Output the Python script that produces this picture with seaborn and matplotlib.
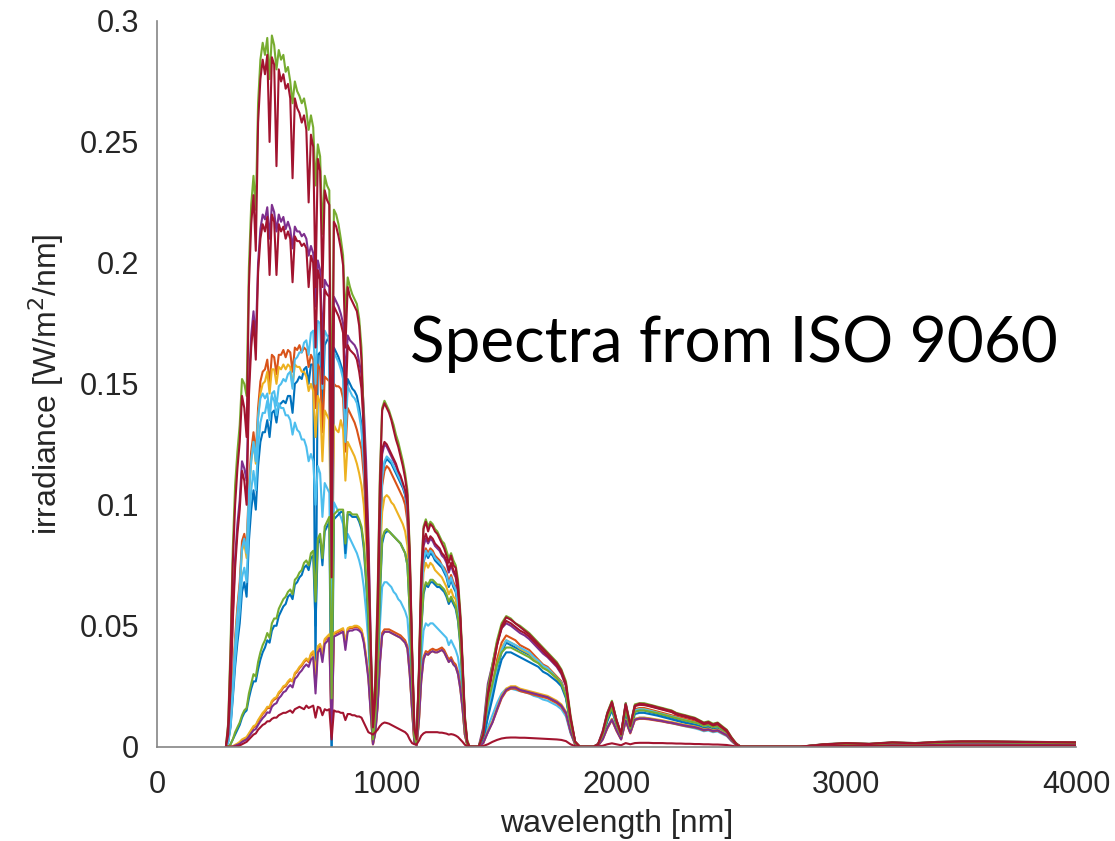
import numpy as np
import matplotlib
matplotlib.use("Agg")
import matplotlib.pyplot as plt
import seaborn as sns

# Wavelength sampling grid [nm]
wavelength = (list(range(300, 1400, 10)) + list(range(1400, 1900, 20))
              + list(range(1900, 2600, 20)) + list(range(2600, 4001, 100)))

# Spectral irradiance values in mW/m^2/nm
g3_blue = [
    0, 2, 8, 20, 33, 43, 51, 64, 68, 62,
    85, 98, 106, 98, 116, 126, 130, 130, 135, 128,
    138, 139, 134, 141, 142, 143, 142, 145, 145, 138,
    150, 151, 153, 152, 156, 157, 150, 158, 158, 30,
    162, 163, 138, 166, 168, 170, 0, 165, 163, 161,
    158, 155, 128, 152, 150, 148, 147, 145, 140, 133,
    118, 96, 70, 34, 3, 14, 40, 82, 110, 117,
    119, 118, 117, 115, 113, 111, 109, 107, 104, 97,
    72, 35, 4, 1, 23, 58, 76, 80, 78, 80,
    79, 77, 76, 75, 74, 72, 70, 66, 69, 66,
    64, 58, 46, 29, 9, 1, 0, 0, 0, 0,
    0, 3, 13, 22, 32, 39, 43, 42, 41, 40,
    39, 38, 36, 35, 33, 32, 30, 28, 26, 21,
    9, 1.5, 0, 0, 0,
    0, 0.8, 4.5, 11, 16, 9.5, 4.5, 15, 7.5, 14.5,
    15, 15, 14.5, 14, 13.5, 13, 12.5, 12, 11.5, 11,
    10.5, 10, 9.5, 9, 8, 8.5, 7.5, 8, 6.5, 5.5,
    3, 1, 0, 0, 0,
    0, 0, 0, 0.7, 1.1, 0.9, 1.4, 1.2, 1.6, 1.8,
    1.8, 1.7, 1.6, 1.5, 1.4]

g3_orange = [
    0, 3, 12, 28, 45, 58, 68, 85, 88, 82,
    108, 122, 130, 121, 140, 151, 155, 156, 160, 150,
    162, 161, 154, 162, 162, 164, 161, 164, 163, 155,
    165, 164, 166, 163, 165, 164, 157, 162, 160, 140,
    158, 156, 130, 153, 152, 151, 60, 150, 149, 149,
    148, 144, 122, 140, 138, 136, 134, 131, 127, 123,
    112, 95, 72, 38, 6, 18, 45, 85, 108, 114,
    116, 115, 113, 111, 109, 107, 105, 103, 100, 93,
    70, 35, 6, 2, 25, 60, 78, 82, 80, 82,
    81, 79, 78, 77, 75, 74, 72, 68, 71, 68,
    66, 60, 49, 31, 10, 2, 0, 0, 0, 0,
    0, 4, 16, 25, 36, 43, 46, 45, 44, 42,
    41, 40, 38, 36, 34, 33, 31, 29, 27, 22,
    10, 2, 0, 0, 0,
    0, 1, 5, 12, 17, 10, 5, 16, 8, 15.5,
    16, 16, 15.5, 15, 14.5, 14, 13.5, 13, 12.5, 12,
    11.5, 11, 10.5, 10, 9, 9.5, 8.5, 9, 7.5, 6,
    3.5, 1.2, 0, 0, 0,
    0, 0, 0, 0.8, 1.2, 1, 1.5, 1.3, 1.7, 1.9,
    1.9, 1.8, 1.7, 1.6, 1.5]

g3_yellow = [
    0, 3, 11, 26, 42, 55, 65, 81, 84, 78,
    104, 118, 126, 117, 136, 146, 150, 151, 155, 146,
    156, 156, 150, 157, 156, 158, 156, 158, 157, 149,
    158, 157, 157, 155, 155, 153, 147, 150, 147, 128,
    145, 142, 118, 139, 137, 135, 55, 133, 131, 130,
    135, 131, 110, 126, 124, 122, 120, 117, 113, 108,
    100, 86, 66, 35, 5, 16, 40, 76, 97, 103,
    104, 103, 101, 100, 98, 96, 94, 92, 89, 83,
    63, 32, 6, 2, 23, 55, 72, 76, 74, 76,
    75, 73, 72, 71, 70, 68, 66, 63, 65, 62,
    61, 55, 45, 28, 9, 2, 0, 0, 0, 0,
    0, 4, 15, 24, 34, 41, 44, 43, 42, 40.5,
    39.5, 38.5, 36.5, 35, 33, 32, 30, 28, 26, 21,
    9.5, 2, 0, 0, 0,
    0, 1, 5, 12, 16.5, 10, 5, 15.5, 8, 15,
    15.5, 15.5, 15, 14.5, 14, 13.5, 13, 12.5, 12, 11.5,
    11, 10.5, 10, 9.5, 8.5, 9, 8, 8.5, 7, 5.8,
    3.3, 1.1, 0, 0, 0,
    0, 0, 0, 0.8, 1.2, 1, 1.5, 1.3, 1.7, 1.9,
    1.9, 1.8, 1.7, 1.6, 1.5]

g2_purple = [
    0, 6, 26, 55, 78, 92, 102, 118, 115, 110,
    150, 170, 180, 168, 200, 214, 220, 218, 223, 210,
    224, 221, 213, 220, 217, 219, 214, 217, 214, 206,
    215, 213, 213, 211, 212, 210, 203, 207, 204, 182,
    201, 197, 166, 193, 191, 190, 85, 186, 184, 182,
    179, 175, 152, 170, 168, 167, 166, 164, 159, 154,
    140, 118, 88, 45, 9, 21, 52, 96, 121, 125,
    124, 122, 120, 118, 116, 113, 111, 108, 105, 99,
    76, 38, 7, 3, 28, 64, 83, 86, 84, 86,
    85, 83, 82, 81, 79, 78, 76, 72, 75, 72,
    70, 64, 52, 33, 11, 2, 0, 0, 0, 0,
    0, 8, 26, 34, 43, 49, 51, 50, 48.5, 47,
    46, 44.5, 42.5, 40.5, 38.5, 37, 35, 33, 30, 25,
    11, 2, 0, 0, 0,
    0, 1.2, 6.5, 14, 18.5, 11, 5.5, 18, 9, 17,
    17.5, 17.5, 17, 16.5, 16, 15.5, 15, 14.5, 13.5, 13,
    12.5, 12, 11.5, 10.5, 9.5, 10, 9, 9.5, 8, 6.5,
    3.5, 1.2, 0, 0, 0,
    0, 0, 0, 1, 1.5, 1.2, 1.8, 1.5, 2, 2.2,
    2.2, 2.1, 2, 1.9, 1.8]

g1_green = [
    0, 10, 42, 82, 108, 122, 133, 152, 150, 145,
    198, 224, 236, 222, 266, 284, 291, 286, 293, 276,
    294, 290, 280, 288, 284, 286, 279, 281, 275, 266,
    275, 271, 269, 266, 268, 263, 255, 261, 256, 232,
    249, 244, 212, 236, 232, 230, 125, 222, 220, 216,
    210, 203, 178, 194, 190, 187, 185, 183, 177, 165,
    135, 100, 75, 42, 12, 28, 62, 112, 140, 143,
    141, 139, 136, 133, 129, 126, 122, 118, 113, 106,
    82, 42, 9, 3, 32, 72, 91, 94, 91, 93,
    92, 90, 89, 87, 85, 84, 81, 78, 80, 77,
    75, 69, 56, 36, 13, 3, 0, 0, 0, 0,
    0, 6, 24, 34, 44, 51, 54, 53, 51, 50,
    48.5, 47, 45, 43, 41, 39, 37, 35, 32, 27,
    13, 2, 0, 0, 0,
    0, 1, 6, 14, 19, 11, 5, 18, 9, 17.5,
    18, 18, 17.5, 17, 16.5, 16, 15.5, 15, 14, 13.5,
    13, 12.5, 12, 11, 10, 10.5, 9.5, 10, 8.5, 7,
    4, 1.5, 0, 0, 0,
    0, 0, 0, 1, 1.5, 1.2, 1.8, 1.5, 2, 2.2,
    2.2, 2.1, 2, 1.9, 1.8]

g3_lightblue = [
    0, 2, 9, 22, 36, 47, 56, 70, 74, 68,
    92, 106, 114, 106, 124, 134, 138, 138, 143, 135,
    146, 147, 141, 149, 150, 152, 151, 154, 155, 148,
    160, 161, 163, 163, 167, 168, 162, 171, 172, 150,
    176, 175, 148, 172, 170, 168, 62, 163, 161, 159,
    156, 152, 126, 149, 147, 145, 144, 142, 137, 131,
    117, 97, 71, 35, 4, 15, 41, 83, 111, 118,
    120, 119, 118, 116, 114, 112, 110, 108, 105, 98,
    73, 36, 5, 1, 24, 59, 77, 81, 79, 81,
    80, 78, 77, 76, 75, 73, 71, 67, 70, 67,
    65, 59, 47, 30, 9, 1, 0, 0, 0, 0,
    0, 3, 14, 23, 33, 40, 44, 43, 42, 41,
    40, 39, 37, 35.5, 33.5, 32.5, 30.5, 28.5, 26.5, 21.5,
    9.5, 1.5, 0, 0, 0,
    0, 0.8, 4.8, 11.5, 16.5, 9.8, 4.8, 15.5, 7.8, 15,
    15.5, 15.4, 15, 14.5, 14, 13.5, 13, 12.5, 12, 11.4,
    10.9, 10.4, 9.9, 9.4, 8.4, 8.9, 7.9, 8.4, 6.9, 5.7,
    3.1, 1, 0, 0, 0,
    0, 0, 0, 0.7, 1.1, 0.9, 1.4, 1.2, 1.6, 1.8,
    1.8, 1.7, 1.6, 1.5, 1.4]

g1_darkred = [
    0, 9, 38, 76, 100, 115, 126, 145, 140, 128,
    190, 216, 228, 205, 258, 276, 284, 278, 286, 250,
    285, 282, 240, 280, 275, 278, 272, 274, 268, 235,
    268, 264, 262, 258, 261, 255, 225, 253, 248, 190,
    243, 238, 190, 230, 226, 224, 95, 217, 215, 211,
    206, 199, 165, 190, 186, 184, 182, 180, 174, 160,
    130, 95, 70, 38, 10, 25, 58, 108, 139, 142,
    140, 138, 135, 131, 127, 124, 120, 116, 111, 104,
    80, 40, 8, 3, 30, 70, 90, 93, 89, 92,
    91, 89, 88, 86, 84, 82, 79, 76, 79, 75,
    74, 67, 54, 34, 12, 2, 0, 0, 0, 0,
    0, 4, 20, 31, 42, 50, 53.5, 52.5, 51, 49.5,
    48, 46.5, 44.5, 42.5, 40.5, 38.5, 36.5, 34.5, 31.5, 26,
    12, 2, 0, 0, 0,
    0, 1, 5.5, 13.5, 18.5, 11, 5, 17.5, 8.5, 17,
    17.8, 17.6, 17.2, 16.8, 16.2, 15.8, 15.2, 14.8, 13.8, 13.2,
    12.8, 12.2, 11.8, 10.8, 9.8, 10.2, 9.2, 9.8, 8.2, 6.8,
    3.8, 1.4, 0, 0, 0,
    0, 0, 0, 0.9, 1.4, 1.1, 1.7, 1.4, 1.9, 2.1,
    2.1, 2, 1.9, 1.8, 1.7]

g4_blue = [
    0, 0, 1, 3, 5, 7, 9, 12, 14, 15,
    20, 24, 27, 27, 32, 36, 39, 41, 44, 43,
    48, 50, 50, 54, 56, 58, 59, 62, 63, 61,
    67, 68, 70, 71, 74, 75, 73, 78, 79, 50,
    84, 86, 75, 89, 91, 93, 0, 94, 95, 96,
    97, 97, 80, 96, 96, 95, 95, 95, 93, 90,
    82, 68, 52, 26, 2, 11, 30, 62, 84, 88,
    89, 89, 88, 87, 86, 85, 84, 82, 80, 75,
    56, 28, 3, 1, 19, 48, 63, 67, 66, 68,
    68, 67, 66, 66, 65, 64, 62, 59, 61, 59,
    57, 52, 42, 27, 8, 1, 0, 0, 0, 0,
    0, 3, 12, 20, 29, 36, 39, 39, 38, 37,
    36, 35, 34, 33, 31, 30, 28.5, 27, 25, 20,
    9, 1.5, 0, 0, 0,
    0, 0.7, 4.2, 10.5, 15, 9, 4.2, 14, 7, 13.5,
    14, 14, 13.6, 13.2, 12.8, 12.3, 11.8, 11.3, 10.8, 10.3,
    9.8, 9.4, 9, 8.5, 7.6, 8, 7.1, 7.5, 6.2, 5.1,
    2.8, 0.9, 0, 0, 0,
    0, 0, 0, 0.6, 1, 0.8, 1.3, 1.1, 1.5, 1.7,
    1.7, 1.6, 1.5, 1.4, 1.3]

g5_orange = [
    0, 0, 0, 0, 0.5, 1, 1.5, 2.5, 3, 3.5,
    5, 6.5, 8, 8.5, 10.5, 12, 13.5, 14.5, 16, 16,
    18.5, 19.5, 20, 22, 23, 24.5, 25, 26.5, 27.5, 27,
    30, 31, 32.5, 33.5, 35, 36, 35, 38, 39, 25,
    41, 42, 37, 44, 45, 46, 5, 46.5, 47, 47.5,
    48, 48.5, 42, 48.5, 49, 49, 49.5, 49.5, 49, 48,
    44, 37, 29, 15, 1, 6, 17, 35, 47, 48.5,
    48.5, 48.5, 48, 47.5, 47, 46.5, 46, 45, 44, 41.5,
    31, 16, 2, 0.5, 11, 28, 37, 39.5, 39, 40,
    40.5, 40, 40, 40.5, 41, 40, 38, 36, 37, 35,
    34, 31, 25, 16, 5, 1, 0, 0, 0, 0,
    0, 1.5, 6, 10, 15, 20, 23, 24, 24, 23,
    22.5, 22, 21.5, 21, 20.5, 20, 19, 18, 16.5, 13.5,
    6, 1, 0, 0, 0,
    0, 0.5, 3, 7.5, 11, 6.5, 3, 10.5, 5.5, 11,
    11.5, 11.5, 11.3, 11, 10.7, 10.4, 10, 9.7, 9.3, 8.9,
    8.5, 8.2, 7.9, 7.4, 6.7, 7, 6.3, 6.6, 5.6, 4.6,
    2.5, 0.8, 0, 0, 0,
    0, 0, 0, 0.5, 0.8, 0.7, 1, 0.9, 1.2, 1.3,
    1.3, 1.2, 1.2, 1.1, 1]

g5_yellow = [
    0, 0, 0, 0.2, 0.8, 1.3, 2, 3, 3.5, 4,
    5.5, 7, 8.5, 9, 11, 12.5, 14, 15, 16.5, 16.5,
    19, 20, 20.5, 22.5, 23.5, 25, 25.5, 27, 28, 27,
    30.5, 31.5, 33, 34, 35.5, 36.5, 35.5, 38.5, 39.5, 30,
    41.5, 42.5, 38, 44.5, 45.5, 46.5, 12, 47, 47.5, 48,
    48.5, 49, 43, 49, 49.5, 49.5, 50, 50, 49.5, 48.5,
    44.5, 37.5, 29.5, 15, 1, 6, 17, 35, 46, 47.5,
    47.5, 47.5, 47, 46.5, 46, 45.5, 45, 44, 43, 40.5,
    30, 15.5, 2, 0.5, 10.5, 27, 36, 38.5, 38, 39,
    39.5, 39, 39, 39.5, 40, 39, 37, 35, 36, 34,
    33, 30, 24, 15.5, 5, 1, 0, 0, 0, 0,
    0, 1.5, 6.5, 10.5, 16, 21, 24, 25, 25, 24,
    23.5, 23, 22.5, 22, 21.5, 21, 20, 19, 17.5, 14.5,
    6.5, 1, 0, 0, 0,
    0, 0.5, 3.2, 8, 11.5, 7, 3.2, 11, 6, 11.5,
    12, 12, 11.8, 11.5, 11.2, 10.9, 10.5, 10.2, 9.8, 9.4,
    9, 8.7, 8.4, 7.9, 7.2, 7.5, 6.8, 7.1, 6.1, 5,
    2.7, 0.9, 0, 0, 0,
    0, 0, 0, 0.5, 0.8, 0.7, 1, 0.9, 1.2, 1.3,
    1.3, 1.2, 1.2, 1.1, 1]

g5_purple = [
    0, 0, 0, 0, 0.4, 0.8, 1.2, 2, 2.5, 3,
    4.2, 5.5, 6.8, 7.3, 9, 10.5, 11.8, 12.8, 14.2, 14,
    16.5, 17.5, 18, 20, 21, 22.5, 23, 24.5, 25.5, 24.5,
    28, 29, 30.5, 31.5, 33, 34, 33, 36, 37, 22,
    39, 40.5, 35, 42.5, 43.5, 45, 4, 45.5, 46, 46.5,
    47, 47.5, 40, 47.5, 48, 48, 48.5, 48.5, 48, 47,
    43, 36, 28, 14, 1, 5.5, 16, 34, 46, 47.5,
    47.5, 47.5, 47, 46.5, 46, 45.5, 45, 44, 43, 40.5,
    30, 15.5, 2, 0.5, 10.5, 27, 36, 38.5, 38, 39,
    39.5, 39, 39, 39.5, 40, 39, 37, 35, 36, 34,
    33, 30, 24, 15.5, 5, 1, 0, 0, 0, 0,
    0, 1.5, 6, 10, 15.5, 20.5, 23.5, 24.5, 24.5, 23.5,
    23, 22.5, 22, 21.5, 21, 20.5, 19.5, 18.5, 17, 14,
    6.2, 1, 0, 0, 0,
    0, 0.5, 3, 7.8, 11.2, 6.8, 3, 10.8, 5.8, 11.2,
    11.7, 11.7, 11.5, 11.2, 10.9, 10.6, 10.2, 9.9, 9.5, 9.1,
    8.7, 8.4, 8.1, 7.6, 6.9, 7.2, 6.5, 6.8, 5.8, 4.8,
    2.6, 0.8, 0, 0, 0,
    0, 0, 0, 0.5, 0.8, 0.7, 1, 0.9, 1.2, 1.3,
    1.3, 1.2, 1.2, 1.1, 1]

g4_green = [
    0, 0, 1, 3, 6, 8, 10, 13, 15, 16,
    22, 26, 30, 29, 35, 39, 42, 44, 47, 45,
    51, 53, 53, 57, 59, 61, 62, 64, 65, 63,
    69, 70, 72, 73, 76, 77, 75, 80, 81, 60,
    86, 88, 78, 91, 93, 95, 20, 96, 97, 98,
    98, 98, 84, 97, 97, 96, 96, 96, 94, 91,
    84, 70, 54, 27, 3, 12, 31, 64, 86, 89,
    90, 89, 88, 87, 86, 85, 84, 82, 80, 75,
    56, 28, 4, 1, 20, 49, 64, 68, 67, 69,
    69, 68, 67, 67, 66, 65, 63, 60, 62, 60,
    58, 53, 43, 27, 8, 1, 0, 0, 0, 0,
    0, 5, 18, 26, 34, 39, 41, 41, 40, 39,
    38, 37, 35.5, 34.5, 32.5, 31.5, 30, 28.5, 26, 21,
    9.5, 1.5, 0, 0, 0,
    0, 1, 5, 11.5, 16, 9.5, 4.5, 15, 7.5, 14.5,
    15, 15, 14.6, 14.2, 13.8, 13.3, 12.8, 12.3, 11.8, 11.3,
    10.8, 10.4, 10, 9.5, 8.6, 9, 8.1, 8.5, 7.2, 6,
    3.2, 1, 0, 0, 0,
    0, 0, 0, 0.7, 1.1, 0.9, 1.4, 1.2, 1.6, 1.8,
    1.8, 1.7, 1.6, 1.5, 1.4]

g4_lightblue = [
    0, 2, 10, 25, 42, 55, 66, 82, 86, 80,
    105, 118, 126, 118, 136, 144, 146, 144, 146, 138,
    145, 143, 137, 142, 140, 140, 137, 137, 135, 129,
    134, 131, 130, 127, 127, 124, 118, 121, 118, 100,
    116, 113, 95, 109, 107, 105, 40, 101, 99, 97,
    95, 92, 78, 88, 86, 84, 82, 80, 77, 73,
    66, 56, 43, 22, 2, 9, 25, 50, 66, 68,
    68, 67, 66, 64, 63, 61, 60, 58, 56, 53,
    40, 20, 3, 1, 14, 36, 48, 51, 50, 51,
    51, 50, 49, 48, 47, 46, 45, 42, 44, 42,
    40, 37, 30, 19, 6, 1, 0, 0, 0, 0,
    0, 2, 8, 13, 18, 22, 24, 24, 23.5, 23,
    22.5, 22, 21, 20.5, 19.5, 19, 18, 17, 15.5, 12.5,
    5.5, 1, 0, 0, 0,
    0, 0.5, 3.5, 8, 11.5, 7, 3.5, 11, 6, 11.5,
    12, 12, 11.7, 11.3, 10.9, 10.5, 10.1, 9.7, 9.3, 8.8,
    8.4, 8, 7.6, 7.1, 6.4, 6.7, 6, 6.3, 5.3, 4.4,
    2.4, 0.7, 0, 0, 0,
    0, 0, 0, 0.5, 0.8, 0.7, 1, 0.9, 1.2, 1.3,
    1.3, 1.2, 1.2, 1.1, 1]

g2_darkred = [
    0, 5, 24, 52, 74, 88, 98, 114, 110, 100,
    145, 165, 176, 160, 196, 210, 216, 213, 219, 195,
    220, 217, 195, 216, 213, 215, 210, 213, 210, 192,
    211, 209, 209, 207, 208, 206, 190, 203, 200, 165,
    197, 193, 150, 189, 187, 186, 70, 182, 180, 178,
    175, 171, 140, 166, 164, 163, 162, 160, 155, 148,
    132, 110, 82, 42, 8, 20, 50, 94, 123, 126,
    125, 123, 121, 119, 117, 114, 112, 109, 106, 100,
    77, 39, 7, 3, 29, 65, 85, 88, 85, 87,
    86, 84, 83, 82, 80, 79, 77, 73, 76, 73,
    71, 65, 53, 33, 11, 2, 0, 0, 0, 0,
    0, 5, 22, 32, 42, 49, 52, 51, 49.5, 48,
    47, 45.5, 43.5, 41.5, 39.5, 37.5, 35.5, 33.5, 30.5, 25.5,
    11.5, 2, 0, 0, 0,
    0, 1, 6, 13.5, 18, 10.5, 5, 17.5, 8.5, 16.8,
    17.3, 17.2, 16.8, 16.3, 15.8, 15.3, 14.8, 14.3, 13.3, 12.8,
    12.3, 11.8, 11.3, 10.3, 9.3, 9.8, 8.8, 9.3, 7.8, 6.3,
    3.4, 1.1, 0, 0, 0,
    0, 0, 0, 0.9, 1.4, 1.1, 1.7, 1.4, 1.9, 2.1,
    2.1, 2, 1.9, 1.8, 1.7]

g6_darkred = [
    0, 0, 0, 0, 0, 0.2, 0.5, 1, 1.5, 2,
    3, 4, 5, 5.5, 7, 8, 9, 9.5, 10.5, 10.5,
    11.5, 12, 12, 13, 13.5, 14, 14, 14.5, 15, 14,
    15.5, 16, 16.5, 16, 15.5, 17, 16, 16.5, 17, 12,
    16.5, 16, 13, 15.5, 15, 15.5, 3, 15, 14.5, 14.5,
    14, 14, 11, 13.5, 13.5, 13, 13, 12.5, 12.5, 12,
    10, 8, 6, 5.5, 5, 6, 7, 8.5, 9.5, 10,
    9.8, 9.5, 9, 8.5, 8, 7.5, 7, 6.5, 6, 5,
    3, 1.5, 1, 1, 2.5, 4.5, 5.5, 6, 6, 6,
    6, 6, 6, 5.8, 5.8, 5.6, 5.4, 5, 5.2, 5,
    4.6, 4, 3, 2, 0.8, 0.2, 0, 0, 0, 0,
    0, 0.3, 1, 2, 2.8, 3.4, 3.7, 3.8, 3.8, 3.7,
    3.7, 3.6, 3.5, 3.4, 3.3, 3.2, 3.1, 3, 2.8, 2.3,
    1, 0.2, 0, 0, 0,
    0, 0.1, 0.4, 1, 1.4, 1, 0.6, 1.5, 1, 1.5,
    1.6, 1.6, 1.6, 1.5, 1.5, 1.5, 1.4, 1.4, 1.3, 1.3,
    1.2, 1.2, 1.1, 1.1, 1, 1, 0.9, 0.9, 0.8, 0.7,
    0.4, 0.1, 0, 0, 0,
    0, 0, 0, 0.2, 0.3, 0.3, 0.4, 0.4, 0.5, 0.5,
    0.5, 0.5, 0.5, 0.5, 0.5]

x_ticks = [0, 1000, 2000, 3000, 4000]
y_ticks = [0, 0.05, 0.1, 0.15, 0.2, 0.25, 0.3]
y_tick_labels = ["0", "0.05", "0.1", "0.15", "0.2", "0.25", "0.3"]

BLUE, ORANGE, YELLOW = "#0072BD", "#D95319", "#EDB120"
PURPLE, GREEN, LBLUE, DRED = "#7E2F8E", "#77AC30", "#4DBEEE", "#A2142F"

series = [
    (g3_blue, BLUE), (g3_orange, ORANGE), (g3_yellow, YELLOW),
    (g2_purple, PURPLE), (g1_green, GREEN), (g3_lightblue, LBLUE),
    (g1_darkred, DRED), (g4_lightblue, LBLUE), (g4_blue, BLUE),
    (g5_orange, ORANGE), (g5_yellow, YELLOW), (g5_purple, PURPLE),
    (g4_green, GREEN), (g2_darkred, DRED), (g6_darkred, DRED),
]

sns.set_style("white")
plt.rcParams["font.family"] = ["Liberation Sans", "DejaVu Sans"]

fig = plt.figure(figsize=(11.15, 8.41), dpi=100)
ax = fig.add_axes([157 / 1115, 1 - 746.7 / 841, (1076 - 157) / 1115, (746.7 - 21) / 841])

for vals, col in series:
    n = min(len(wavelength), len(vals))
    y = np.asarray(vals[:n], dtype=float) / 1000.0  # mW -> W
    sns.lineplot(x=np.asarray(wavelength[:n]), y=y, color=col, linewidth=1.5,
                 ax=ax, legend=False, estimator=None, sort=False)

ax.set_xlim(0, 4000)
ax.set_ylim(0, 0.3)
ax.set_xticks(x_ticks)
ax.set_xticklabels([str(t) for t in x_ticks])
ax.set_yticks(y_ticks)
ax.set_yticklabels(y_tick_labels)

for s in ["top", "right"]:
    ax.spines[s].set_visible(False)
for s in ["left", "bottom"]:
    ax.spines[s].set_color("#858585")
    ax.spines[s].set_linewidth(1.2)

ax.tick_params(axis="both", direction="in", length=7, width=1.2, color="#858585",
               labelsize=22, labelcolor="#262626")
ax.tick_params(axis="x", pad=17)
ax.tick_params(axis="y", pad=13)

ax.set_xlabel("wavelength [nm]", fontsize=23, color="#262626", labelpad=6)
ax.set_ylabel("irradiance [W/m$^2$/nm]", fontsize=23, color="#262626", labelpad=10)

fig.text(410 / 1115, 1 - 362 / 841, "Spectra from ISO 9060", family="Lato",
         fontsize=46, color="black", ha="left", va="baseline")

fig.savefig("out.png", dpi=100, facecolor="white")
